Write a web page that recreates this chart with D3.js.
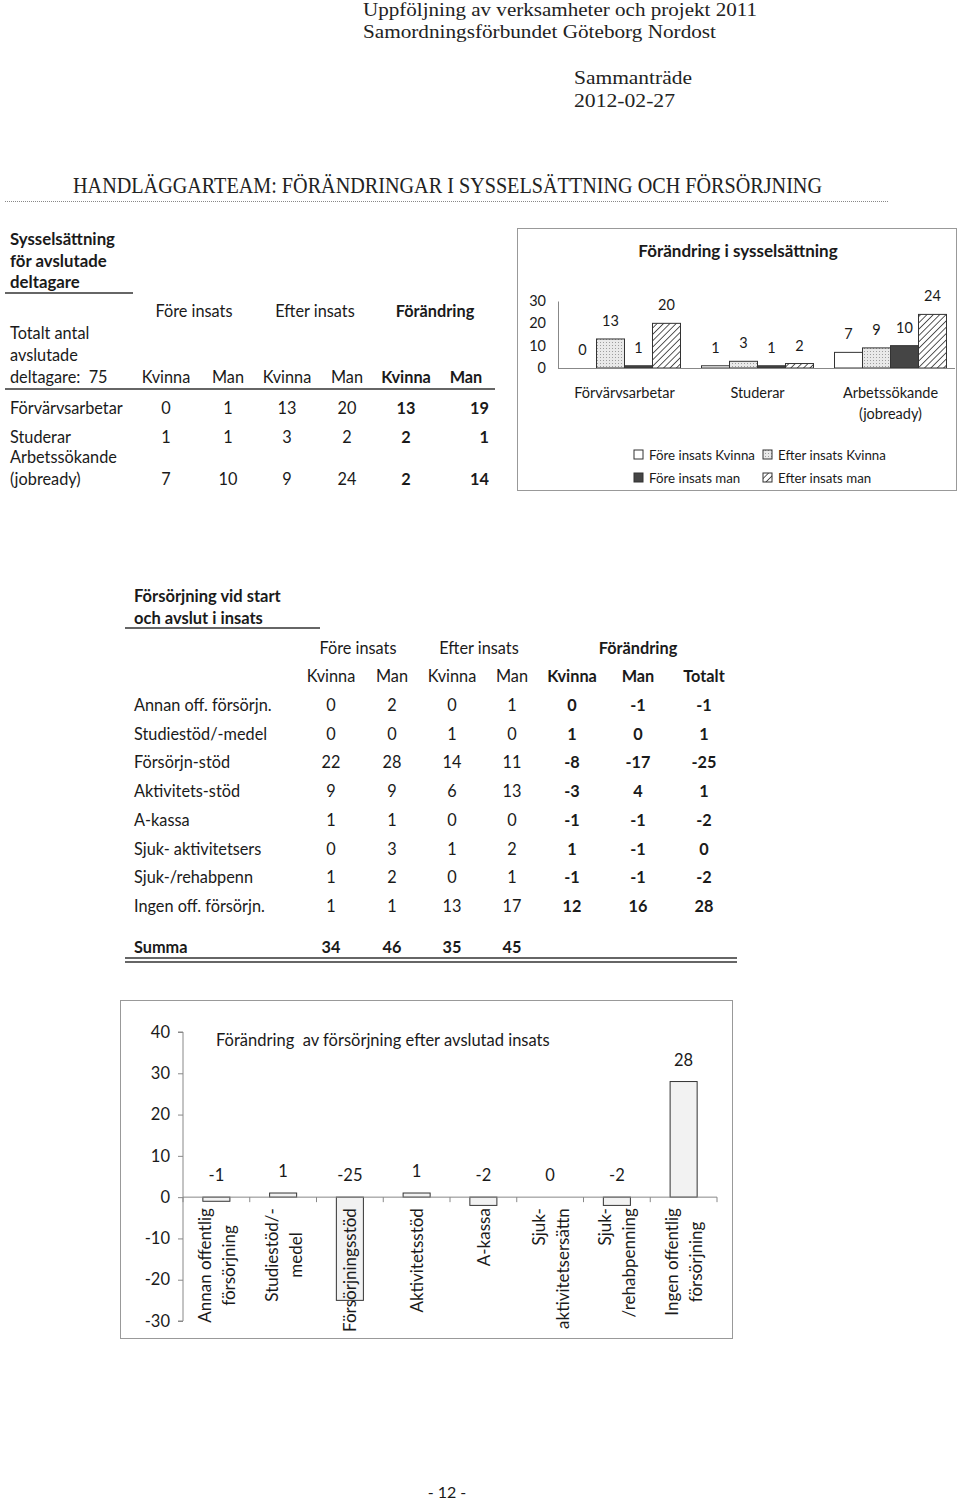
<!DOCTYPE html>
<html><head><meta charset="utf-8">
<script src="https://cdn.jsdelivr.net/npm/d3@7"></script>
<style>
body{margin:0;background:#fff;}
svg text{font-family:Lato,"Open Sans",sans-serif;fill:#1a1a1a;}
svg text.serif{font-family:"Liberation Serif","DejaVu Serif",serif;fill:#222;}
</style></head><body><svg id="c" width="960" height="1503"></svg>
<script>
// ---------- Data ----------
const headerLines = ["Uppföljning av verksamheter och projekt 2011", "Samordningsförbundet Göteborg Nordost"];
const meetingLines = ["Sammanträde", "2012-02-27"];
const pageTitle = "HANDLÄGGARTEAM: FÖRÄNDRINGAR I SYSSELSÄTTNING OCH FÖRSÖRJNING";

const occTableTitle = ["Sysselsättning", "för avslutade", "deltagare"];
const occRowLabels = [["Förvärvsarbetar"], ["Studerar"], ["Arbetssökande", "(jobready)"]];
const occForeKvinna = [0, 1, 7];
const occForeMan = [1, 1, 10];
const occEfterKvinna = [13, 3, 9];
const occEfterMan = [20, 2, 24];
const occChangeKvinna = [13, 2, 2];
const occChangeMan = [19, 1, 14];
const totalParticipants = 75;
const occChartTitle = "Förändring i sysselsättning";
const occSeries = ["Före insats Kvinna", "Efter insats Kvinna", "Före insats man", "Efter insats man"];
const occTicks = [0, 10, 20, 30];

const supTableTitle = ["Försörjning vid start", "och avslut i insats"];
const supRowLabels = ["Annan off. försörjn.", "Studiestöd/-medel", "Försörjn-stöd", "Aktivitets-stöd", "A-kassa", "Sjuk- aktivitetsers", "Sjuk-/rehabpenn", "Ingen off. försörjn."];
const supForeKvinna = [0, 0, 22, 9, 1, 0, 1, 1];
const supForeMan = [2, 0, 28, 9, 1, 3, 2, 1];
const supEfterKvinna = [0, 1, 14, 6, 0, 1, 0, 13];
const supEfterMan = [1, 0, 11, 13, 0, 2, 1, 17];
const supChangeKvinna = [0, 1, -8, -3, -1, 1, -1, 12];
const supChangeMan = [-1, 0, -17, 4, -1, -1, -1, 16];
const supChangeTotal = [-1, 1, -25, 1, -2, 0, -2, 28];
const supSums = [34, 46, 35, 45];
const supChartTitle = "Förändring  av försörjning efter avslutad insats";
const supChartLabels = [["Annan offentlig", "försörjning"], ["Studiestöd/-", "medel"], ["Försörjningsstöd"], ["Aktivitetsstöd"], ["A-kassa"], ["Sjuk-", "aktivitetsersättn"], ["Sjuk-", "/rehabpenning"], ["Ingen offentlig", "försörjning"]];
const supTicks = [-30, -20, -10, 0, 10, 20, 30, 40];
const pageNumber = "- 12 -";

// ---------- Drawing ----------
const svg = d3.select("#c");
svg.append("rect").attr("width", 960).attr("height", 1503).attr("fill", "#fff");
const FS = 16.3;

function txt(x, y, s, o = {}) {
  const t = svg.append("text").attr("x", x).attr("y", y).text(s)
    .attr("font-size", o.size || FS)
    .attr("text-anchor", o.anchor || "start")
    .attr("font-weight", o.bold ? "bold" : "normal");
  if (o.cls) t.attr("class", o.cls);
  if (o.len) t.attr("textLength", o.len).attr("lengthAdjust", "spacingAndGlyphs");
  if (o.pre) t.style("white-space", "pre");
  return t;
}

// Header
txt(363, 16, headerLines[0], {cls: "serif", size: 18.5, len: 394});
txt(363, 38, headerLines[1], {cls: "serif", size: 18.5, len: 353});
txt(574, 84, meetingLines[0], {cls: "serif", size: 18.5, len: 118});
txt(574, 107, meetingLines[1], {cls: "serif", size: 18.5, len: 101});
txt(73, 193, pageTitle, {cls: "serif", size: 23, len: 749});
svg.append("line").attr("x1", 5).attr("x2", 888).attr("y1", 201.5).attr("y2", 201.5)
  .attr("stroke", "#888").attr("stroke-dasharray", "1,1");

// ---------- Table 1 ----------
occTableTitle.forEach((s, i) => txt(10, 245 + i * 21.5, s, {bold: true, size: 16.8}));
svg.append("line").attr("x1", 5).attr("x2", 133).attr("y1", 293).attr("y2", 293).attr("stroke", "#333").attr("stroke-width", 1.3);
const c1 = [166, 228, 287, 347, 406, 466];
txt(194, 317, "Före insats", {anchor: "middle"});
txt(315, 317, "Efter insats", {anchor: "middle"});
txt(435, 317, "Förändring", {anchor: "middle", bold: true});
txt(10, 339, "Totalt antal");
txt(10, 361, "avslutade");
txt(10, 383, "deltagare:  " + totalParticipants, {pre: true});
["Kvinna", "Man", "Kvinna", "Man", "Kvinna", "Man"].forEach((s, i) => txt(c1[i], 383, s, {anchor: "middle", bold: i >= 4}));
svg.append("line").attr("x1", 5).attr("x2", 495).attr("y1", 389).attr("y2", 389).attr("stroke", "#333").attr("stroke-width", 1.3);
const occRowY = [414, 443, 485];
occRowLabels.forEach((lines, r) => {
  lines.forEach((s, j) => txt(10, occRowY[r] - (lines.length - 1 - j) * 22, s));
  const vals = [occForeKvinna[r], occForeMan[r], occEfterKvinna[r], occEfterMan[r], occChangeKvinna[r], occChangeMan[r]];
  vals.forEach((v, i) => {
    if (i === 5) txt(489, occRowY[r], v, {anchor: "end", bold: true});
    else txt(c1[i], occRowY[r], v, {anchor: "middle", bold: i >= 4});
  });
});

// ---------- Chart 1 ----------
svg.append("rect").attr("x", 517.5).attr("y", 228.5).attr("width", 439).attr("height", 262)
  .attr("fill", "none").attr("stroke", "#999");
txt(738, 257, occChartTitle, {anchor: "middle", bold: true, size: 17});

const defs = svg.append("defs");
const dots = defs.append("pattern").attr("id", "dots").attr("patternUnits", "userSpaceOnUse").attr("width", 3).attr("height", 3);
dots.append("rect").attr("width", 3).attr("height", 3).attr("fill", "#e9e9e9");
dots.append("rect").attr("width", 1).attr("height", 1).attr("fill", "#9d9d9d");
const hatch = defs.append("pattern").attr("id", "hatch").attr("patternUnits", "userSpaceOnUse").attr("width", 4.5).attr("height", 4.5).attr("patternTransform", "rotate(45)");
hatch.append("rect").attr("width", 4.5).attr("height", 4.5).attr("fill", "#fff");
hatch.append("line").attr("x1", 0).attr("y1", 0).attr("x2", 0).attr("y2", 4.5).attr("stroke", "#222").attr("stroke-width", 1.5);
const occFills = ["#ffffff", "url(#dots)", "#454545", "url(#hatch)"];

const y1 = d3.scaleLinear().domain([0, 30]).range([368, 301]);
const x1 = d3.scaleBand().domain(occRowLabels.map(d => d.join(" "))).range([558, 957]).paddingInner(0.158).paddingOuter(0.079);
const x1s = d3.scaleBand().domain(occSeries).range([0, x1.bandwidth()]);
const occValues = [occForeKvinna, occEfterKvinna, occForeMan, occEfterMan];

const ax1 = svg.append("g").attr("transform", "translate(558,0)")
  .call(d3.axisLeft(y1).tickValues(occTicks).tickSize(0).tickPadding(12).tickFormat(d => String(d)));
ax1.select(".domain").attr("stroke", "#888");
ax1.selectAll("text").attr("font-size", 14.5).attr("font-family", "Lato").attr("fill", "#1a1a1a");

occRowLabels.forEach((lines, ci) => {
  const key = lines.join(" ");
  occSeries.forEach((s, si) => {
    const v = occValues[si][ci];
    const bx = x1(key) + x1s(s);
    svg.append("rect").attr("x", bx).attr("y", y1(v)).attr("width", x1s.bandwidth()).attr("height", y1(0) - y1(v))
      .attr("fill", occFills[si]).attr("stroke", "#333").attr("stroke-width", 1);
    txt(bx + x1s.bandwidth() / 2, y1(v) - 13, v, {anchor: "middle", size: 14.5});
  });
  lines.forEach((l, j) => txt(x1(key) + x1.bandwidth() / 2, 398 + j * 21, l, {anchor: "middle", size: 14.5}));
});
svg.append("line").attr("x1", 558).attr("x2", 955).attr("y1", y1(0) + 0.5).attr("y2", y1(0) + 0.5).attr("stroke", "#888");

// legend
occSeries.forEach((s, i) => {
  const lx = i % 2 === 0 ? 634 : 763;
  const ly = i < 2 ? 455 : 478;
  svg.append("rect").attr("x", lx).attr("y", ly - 5).attr("width", 9).attr("height", 9)
    .attr("fill", occFills[i]).attr("stroke", "#333");
  txt(lx + 15, ly + 5, s, {size: 13.3});
});

// ---------- Table 2 ----------
supTableTitle.forEach((s, i) => txt(134, 602 + i * 22, s, {bold: true, size: 16.5}));
svg.append("line").attr("x1", 125).attr("x2", 320).attr("y1", 628).attr("y2", 628).attr("stroke", "#333").attr("stroke-width", 1.3);
const c2 = [331, 392, 452, 512, 572, 638, 704];
txt(358, 654, "Före insats", {anchor: "middle"});
txt(479, 654, "Efter insats", {anchor: "middle"});
txt(638, 654, "Förändring", {anchor: "middle", bold: true});
["Kvinna", "Man", "Kvinna", "Man", "Kvinna", "Man", "Totalt"].forEach((s, i) => txt(c2[i], 682, s, {anchor: "middle", bold: i >= 4}));
supRowLabels.forEach((s, r) => {
  const ry = 711 + r * 28.7;
  txt(134, ry, s);
  [supForeKvinna[r], supForeMan[r], supEfterKvinna[r], supEfterMan[r], supChangeKvinna[r], supChangeMan[r], supChangeTotal[r]]
    .forEach((v, i) => txt(c2[i], ry, v, {anchor: "middle", bold: i >= 4}));
});
txt(134, 953, "Summa", {bold: true});
supSums.forEach((v, i) => txt(c2[i], 953, v, {anchor: "middle", bold: true}));
[958, 962].forEach(yy => svg.append("line").attr("x1", 125).attr("x2", 737).attr("y1", yy).attr("y2", yy).attr("stroke", "#333").attr("stroke-width", 1.5));

// ---------- Chart 2 ----------
svg.append("rect").attr("x", 120.5).attr("y", 1000.5).attr("width", 612).attr("height", 338)
  .attr("fill", "none").attr("stroke", "#999");
txt(216, 1046, supChartTitle, {size: 16.5, pre: true});

const y2 = d3.scaleLinear().domain([-30, 40]).range([1321, 1032]);
const x2 = d3.scaleBand().domain(d3.range(supChangeTotal.length)).range([183, 717]).paddingInner(0.595).paddingOuter(0.2975);
const ax2 = svg.append("g").attr("transform", "translate(183,0)")
  .call(d3.axisLeft(y2).tickValues(supTicks).tickSize(5).tickPadding(8).tickFormat(d => String(d)));
ax2.select(".domain").attr("stroke", "#888").attr("d", `M-5,${y2(-30)}H0V${y2(40)}H-5`);
ax2.selectAll(".tick line").attr("stroke", "#888");
ax2.selectAll("text").attr("font-size", 16.5).attr("font-family", "Lato").attr("fill", "#1a1a1a");

supChangeTotal.forEach((v, i) => {
  svg.append("rect").attr("x", x2(i)).attr("y", y2(Math.max(v, 0))).attr("width", x2.bandwidth())
    .attr("height", Math.abs(y2(v) - y2(0))).attr("fill", "#f2f2f2").attr("stroke", "#333").attr("stroke-width", 1);
  txt(x2(i) + x2.bandwidth() / 2, y2(Math.max(v, 0)) - 16, v, {anchor: "middle", size: 16.5});
});
// x axis with boundary ticks
const step = x2.step();
svg.append("line").attr("x1", 183).attr("x2", 717).attr("y1", y2(0)).attr("y2", y2(0)).attr("stroke", "#888");
d3.range(supChangeTotal.length + 1).forEach(k => {
  const bx = 183 + k * step;
  svg.append("line").attr("x1", bx).attr("x2", bx).attr("y1", y2(0)).attr("y2", y2(0) + 5).attr("stroke", "#888");
});
// rotated category labels
supChartLabels.forEach((lines, i) => {
  const cx = x2(i) + x2.bandwidth() / 2;
  const top = y2(0) + 11;
  const n = lines.length;
  const texts = lines.map(l => svg.append("text").text(l).attr("font-size", 17));
  const lens = texts.map(t => t.node().getComputedTextLength());
  const L = Math.max(...lens);
  const firstShort = n > 1 && lines[0].endsWith("-") && lens[0] < lens[1];
  texts.forEach((t, j) => {
    const lx = cx + (j - (n - 1) / 2) * 24;
    const py = firstShort ? top : top + L / 2;
    t.attr("transform", `translate(${lx},${py}) rotate(-90)`)
      .attr("text-anchor", firstShort ? "end" : "middle")
      .attr("dominant-baseline", "central");
  });
});

txt(447, 1498, pageNumber, {anchor: "middle", size: 16});
</script></body></html>
